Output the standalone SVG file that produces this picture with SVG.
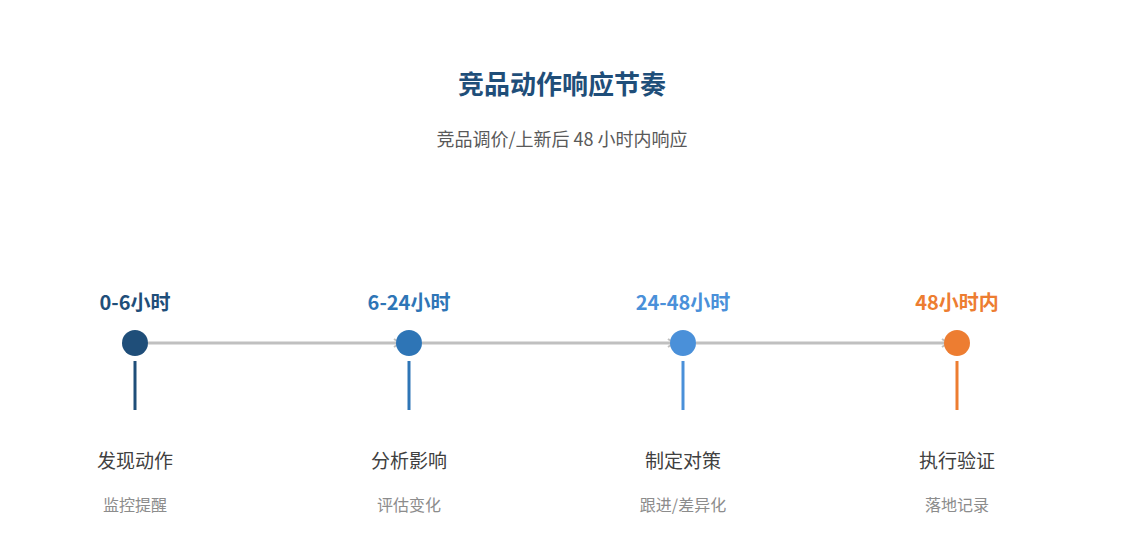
<svg xmlns="http://www.w3.org/2000/svg" width="1125" height="555" viewBox="0 0 1125 555">
<style>
text{font-family:"Noto Sans CJK SC","Noto Sans",sans-serif;text-anchor:middle}
.t{font-size:26px;font-weight:bold;fill:#1f4e79}
.s{font-size:18px;fill:#595959}
.h{font-size:20px;font-weight:bold}
.n{font-size:19px;fill:#404040}
.d{font-size:16px;fill:#8c8c8c}
.c{stroke:#c0c0c0;stroke-width:3;fill:none}
</style>
<defs><marker id="a" markerWidth="10" markerHeight="10" refX="8" refY="5" orient="auto" markerUnits="userSpaceOnUse"><path d="M2,1 L8,5 L2,9" fill="none" stroke="#c0c0c0" stroke-width="2"/></marker></defs>
<rect width="1125" height="555" fill="#fff"/>
<text class="t" x="562" y="94">竞品动作响应节奏</text>
<text class="s" x="562" y="146">竞品调价/上新后 48 小时内响应</text>
<g id="connectors">
<line class="c" x1="148" y1="343" x2="400" y2="343" marker-end="url(#a)"/>
<line class="c" x1="422" y1="343" x2="674" y2="343" marker-end="url(#a)"/>
<line class="c" x1="696" y1="343" x2="948" y2="343" marker-end="url(#a)"/>
</g>
<g id="n1"><text class="h" x="135" y="310" fill="#1f4e79">0-6小时</text><circle cx="135" cy="343" r="13" fill="#1f4e79"/><line x1="135" y1="361" x2="135" y2="410" stroke="#1f4e79" stroke-width="3"/><text class="n" x="135" y="468">发现动作</text><text class="d" x="135" y="511">监控提醒</text></g>
<g id="n2"><text class="h" x="409" y="310" fill="#2e75b6">6-24小时</text><circle cx="409" cy="343" r="13" fill="#2e75b6"/><line x1="409" y1="361" x2="409" y2="410" stroke="#2e75b6" stroke-width="3"/><text class="n" x="409" y="468">分析影响</text><text class="d" x="409" y="511">评估变化</text></g>
<g id="n3"><text class="h" x="683" y="310" fill="#4a90d9">24-48小时</text><circle cx="683" cy="343" r="13" fill="#4a90d9"/><line x1="683" y1="361" x2="683" y2="410" stroke="#4a90d9" stroke-width="3"/><text class="n" x="683" y="468">制定对策</text><text class="d" x="683" y="511">跟进/差异化</text></g>
<g id="n4"><text class="h" x="957" y="310" fill="#ed7d31">48小时内</text><circle cx="957" cy="343" r="13" fill="#ed7d31"/><line x1="957" y1="361" x2="957" y2="410" stroke="#ed7d31" stroke-width="3"/><text class="n" x="957" y="468">执行验证</text><text class="d" x="957" y="511">落地记录</text></g>
</svg>
